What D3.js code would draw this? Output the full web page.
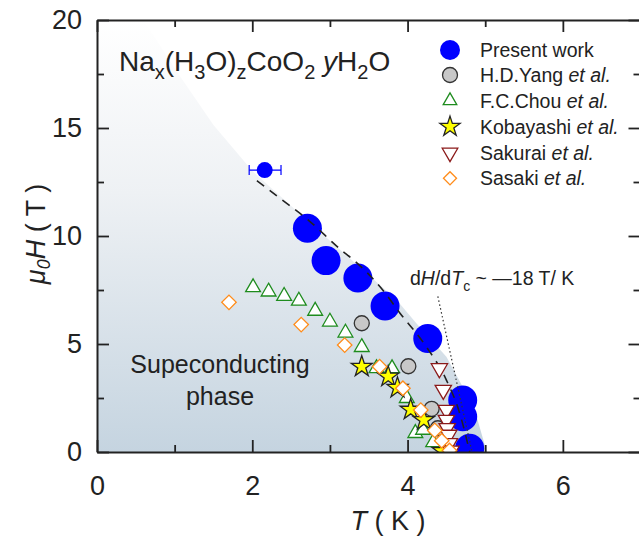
<!DOCTYPE html>
<html>
<head>
<meta charset="utf-8">
<script src="https://cdn.jsdelivr.net/npm/d3@7"></script>
<style>
  body { margin: 0; background: #fff; }
  svg { display: block; font-family: "Liberation Sans", Arial, Helvetica, sans-serif; }
</style>
</head>
<body>
<svg id="chart" width="639" height="539"></svg>
<script>
// 本文数据 (Present work)
const presentT = [2.16, 2.71, 2.95, 3.36, 3.71, 4.26, 4.71, 4.71, 4.80];
const presentH = [13.05, 10.36, 8.86, 8.06, 6.76, 5.26, 2.41, 1.63, 0.17];
const presentErrLo = [1.96];
const presentErrHi = [2.37];

// 其他文献数据
const yangT = [3.41, 4.01, 4.31, 4.39];
const yangH = [5.96, 3.97, 2.00, 1.10];
const chouT = [2.01, 2.21, 2.41, 2.60, 2.81, 3.00, 3.20, 3.41, 3.60, 3.80, 3.99, 4.10, 4.20, 4.33];
const chouH = [7.62, 7.42, 7.22, 7.00, 6.53, 6.03, 5.52, 4.85, 3.87, 3.87, 2.49, 0.87, 1.02, 0.45];
const kobaT = [3.41, 3.75, 3.87, 4.04, 4.21, 4.45];
const kobaH = [3.95, 3.49, 2.97, 1.96, 1.48, 0.05];
const sakuT = [4.41, 4.46, 4.50, 4.50, 4.51, 4.53, 4.54, 4.56];
const sakuH = [3.87, 2.87, 1.94, 1.48, 1.10, 0.79, 0.40, 0.05];
const sasaT = [1.70, 2.63, 3.19, 3.64, 3.94, 4.17, 4.35, 4.44, 4.54];
const sasaH = [6.93, 5.90, 4.95, 3.95, 2.95, 1.94, 1.00, 0.52, 0.07];

// 拟合虚线 和 斜率点线
const fitT = [2.06, 2.37, 2.72, 3.13, 3.32, 3.68, 3.90, 4.24, 4.50, 4.67, 4.80];
const fitH = [12.56, 11.71, 10.74, 9.40, 8.84, 7.50, 6.44, 4.88, 3.33, 1.81, 0.0];
const slopeT = [4.39, 4.83];
const slopeH = [7.2, 0.0];

// 超导相区域边界
const boundaryT = [0.6, 1.03, 1.50, 2.01, 2.87, 3.86, 4.11, 4.50, 4.71, 4.89, 5.02];
const boundaryH = [20, 17.6, 15.14, 12.98, 10.2, 7.04, 5.97, 4.41, 3.02, 1.63, 0];

// 刻度
const xMajor = [0, 2, 4, 6], xMinor = [1, 3, 5];
const yMajor = [0, 5, 10, 15, 20], yMinor = [2.5, 7.5, 12.5, 17.5];

const legendNames = ["Present work", "H.D.Yang", "F.C.Chou", "Kobayashi", "Sakurai", "Sasaki"];

const svg = d3.select("#chart");
const x = d3.scaleLinear().domain([0, 7]).range([97, 640.5]);
const y = d3.scaleLinear().domain([0, 20]).range([452, 20]);
const pair = (ts, hs) => ts.map((t, i) => [t, hs[i]]);

const defs = svg.append("defs");
const grad = defs.append("linearGradient").attr("id", "scGrad")
    .attr("gradientUnits", "userSpaceOnUse")
    .attr("x1", 0).attr("y1", y(20)).attr("x2", 0).attr("y2", y(0));
grad.append("stop").attr("offset", "0%").attr("stop-color", "#ffffff");
grad.append("stop").attr("offset", "40%").attr("stop-color", "#eef1f4");
grad.append("stop").attr("offset", "100%").attr("stop-color", "#c5d4e0");
defs.append("clipPath").attr("id", "plotClip").append("rect")
    .attr("x", x(0)).attr("y", y(20))
    .attr("width", x(7) - x(0)).attr("height", y(0) - y(20));

const plot = svg.append("g").attr("clip-path", "url(#plotClip)");

//超导区域
const line = d3.line().x(d => x(d[0])).y(d => y(d[1]));
plot.append("path")
    .datum([[0, 0], [0, 20]].concat(pair(boundaryT, boundaryH)))
    .attr("d", d => line(d) + "Z")
    .attr("fill", "url(#scGrad)");

//符号
const sym = (type, size) => d3.symbol().type(type).size(size)();

// Present work
plot.append("line")
    .attr("x1", x(presentErrLo[0])).attr("x2", x(presentErrHi[0]))
    .attr("y1", y(presentH[0])).attr("y2", y(presentH[0]))
    .attr("stroke", "#0000ff").attr("stroke-width", 1.2);
[presentErrLo[0], presentErrHi[0]].forEach(t => {
    plot.append("line")
        .attr("x1", x(t)).attr("x2", x(t))
        .attr("y1", y(presentH[0]) - 5).attr("y2", y(presentH[0]) + 5)
        .attr("stroke", "#0000ff").attr("stroke-width", 1.2);
});
plot.selectAll("circle.present")
    .data(pair(presentT, presentH))
    .join("circle").attr("class", "present")
    .attr("cx", d => x(d[0])).attr("cy", d => y(d[1]))
    .attr("r", (d, i) => i === 0 ? 8 : 14.5)
    .attr("fill", "#0000ff");

//虚线
plot.append("path").datum(pair(fitT, fitH))
    .attr("d", d3.line().x(d => x(d[0])).y(d => y(d[1])).curve(d3.curveMonotoneX))
    .attr("fill", "none").attr("stroke", "#222").attr("stroke-width", 1.6)
    .attr("stroke-dasharray", "9,7");
plot.append("path").datum(pair(slopeT, slopeH))
    .attr("d", line)
    .attr("fill", "none").attr("stroke", "#333").attr("stroke-width", 1.2)
    .attr("stroke-dasharray", "1.5,2.5");

function drawSeries(ts, hs, path, fill, stroke, rot) {
    plot.append("g").selectAll("path")
        .data(pair(ts, hs))
        .join("path")
        .attr("d", path)
        .attr("transform", d => `translate(${x(d[0])},${y(d[1])})` + (rot ? ` rotate(${rot})` : ""))
        .attr("fill", fill).attr("stroke", stroke).attr("stroke-width", 1.3);
}

drawSeries(yangT, yangH, sym(d3.symbolCircle, Math.PI * 7.5 * 7.5), "#c8c8c8", "#333", 0);
drawSeries(chouT, chouH, sym(d3.symbolTriangle, 95), "#fff", "#1e8c1e", 0);
drawSeries(kobaT, kobaH, sym(d3.symbolStar, 136), "#ffff00", "#222", 0);
drawSeries(sakuT, sakuH, sym(d3.symbolTriangle, 115), "#fff", "#8b1a1a", 180);
drawSeries(sasaT, sasaH, sym(d3.symbolSquare, 105), "#fff", "#ff8c1a", 45);

//坐标轴
const axisColor = "#222";
function styleAxis(g) {
    g.select(".domain").attr("stroke", axisColor).attr("stroke-width", 2);
    g.selectAll(".tick line").attr("stroke", axisColor).attr("stroke-width", 1.8);
    g.selectAll(".tick text").attr("fill", axisColor)
        .style("font-family", "'Liberation Sans', Arial, sans-serif").style("font-size", "27px");
}
svg.append("g").attr("transform", `translate(0,${y(0)})`)
    .call(d3.axisBottom(x).tickValues(xMajor).tickSize(-12).tickSizeOuter(0).tickPadding(24).tickFormat(d3.format("d")))
    .call(styleAxis);
svg.append("g").attr("transform", `translate(0,${y(0)})`)
    .call(d3.axisBottom(x).tickValues(xMinor).tickSize(-7).tickFormat(""))
    .call(g => g.select(".domain").remove()).call(styleAxis);
svg.append("g").attr("transform", `translate(0,${y(20)})`)
    .call(d3.axisTop(x).tickValues(xMajor).tickSize(-12).tickSizeOuter(0).tickFormat(""))
    .call(styleAxis);
svg.append("g").attr("transform", `translate(0,${y(20)})`)
    .call(d3.axisTop(x).tickValues(xMinor).tickSize(-7).tickFormat(""))
    .call(g => g.select(".domain").remove()).call(styleAxis);
svg.append("g").attr("transform", `translate(${x(0)},0)`)
    .call(d3.axisLeft(y).tickValues(yMajor).tickSize(-12).tickSizeOuter(0).tickPadding(15).tickFormat(d3.format("d")))
    .call(styleAxis);
svg.append("g").attr("transform", `translate(${x(0)},0)`)
    .call(d3.axisLeft(y).tickValues(yMinor).tickSize(-7).tickFormat(""))
    .call(g => g.select(".domain").remove()).call(styleAxis);
svg.append("g").attr("transform", `translate(${x(7)},0)`)
    .call(d3.axisRight(y).tickValues(yMajor).tickSize(-12).tickSizeOuter(0).tickFormat(""))
    .call(styleAxis);
svg.append("g").attr("transform", `translate(${x(7)},0)`)
    .call(d3.axisRight(y).tickValues(yMinor).tickSize(-7).tickFormat(""))
    .call(g => g.select(".domain").remove()).call(styleAxis);

//坐标轴标题
const xl = svg.append("text").attr("x", 388).attr("y", 530)
    .attr("text-anchor", "middle").attr("fill", axisColor).style("font-size", "27px");
xl.append("tspan").style("font-style", "italic").text("T");
xl.append("tspan").text(" ( K )");

const yl = svg.append("text").attr("transform", "translate(45,234) rotate(-90)")
    .attr("text-anchor", "middle").attr("fill", axisColor).style("font-size", "27px");
yl.append("tspan").style("font-style", "italic").text("μ");
yl.append("tspan").style("font-style", "italic").style("font-size", "18px").attr("dy", 5).text("0");
yl.append("tspan").style("font-style", "italic").attr("dy", -5).text("H");
yl.append("tspan").text(" ( T )");

//化学式
const title = svg.append("text").attr("x", 119).attr("y", 71)
    .attr("fill", axisColor).style("font-size", "28px");
[["Na", 0], ["x", 1], ["(H", 0], ["3", 1], ["O)", 0], ["z", 1], ["CoO", 0], ["2", 1], [" ", 0]].forEach((p, i, arr) => {
    const prevSub = i > 0 && arr[i - 1][1] === 1;
    title.append("tspan")
        .attr("dy", p[1] ? 8 : (prevSub ? -8 : 0))
        .style("font-size", p[1] ? "20px" : null)
        .text(p[0]);
});
title.append("tspan").style("font-style", "italic").text("y");
title.append("tspan").text("H");
title.append("tspan").attr("dy", 8).style("font-size", "20px").text("2");
title.append("tspan").attr("dy", -8).text("O");

//区域说明
svg.append("text").attr("x", 220).attr("y", 373).attr("text-anchor", "middle")
    .attr("fill", axisColor).style("font-size", "25px").text("Supeconducting");
svg.append("text").attr("x", 220).attr("y", 405).attr("text-anchor", "middle")
    .attr("fill", axisColor).style("font-size", "25px").text("phase");

//斜率说明
const sl = svg.append("text").attr("x", 410).attr("y", 285)
    .attr("fill", axisColor).style("font-size", "19.5px");
sl.append("tspan").text("d");
sl.append("tspan").style("font-style", "italic").text("H");
sl.append("tspan").text("/d");
sl.append("tspan").style("font-style", "italic").text("T");
sl.append("tspan").attr("dy", 6).style("font-size", "14px").text("c");
sl.append("tspan").attr("dy", -6).text(" ~ —18 T/ K");

//图例
const legendY = [50, 75, 100.7, 126.7, 152.7, 178.3];
const legendSym = [
    [sym(d3.symbolCircle, Math.PI * 100), "#0000ff", "none", 0],
    [sym(d3.symbolCircle, Math.PI * 7.5 * 7.5), "#c8c8c8", "#333", 0],
    [sym(d3.symbolTriangle, 80), "#fff", "#1e8c1e", 0],
    [sym(d3.symbolStar, 125), "#ffff00", "#222", 0],
    [sym(d3.symbolTriangle, 105), "#fff", "#8b1a1a", 180],
    [sym(d3.symbolSquare, 85), "#fff", "#ff8c1a", 45]
];
const legend = svg.append("g");
legendNames.forEach((name, i) => {
    const s = legendSym[i];
    legend.append("path").attr("d", s[0])
        .attr("transform", `translate(450,${legendY[i]}) rotate(${s[3]})`)
        .attr("fill", s[1]).attr("stroke", s[2]).attr("stroke-width", 1.3);
    const t = legend.append("text").attr("x", 480).attr("y", legendY[i] + 7)
        .attr("fill", axisColor).style("font-size", "19.5px");
    t.append("tspan").text(name);
    if (i > 0) t.append("tspan").style("font-style", "italic").text(" et al.");
});
</script>
</body>
</html>
